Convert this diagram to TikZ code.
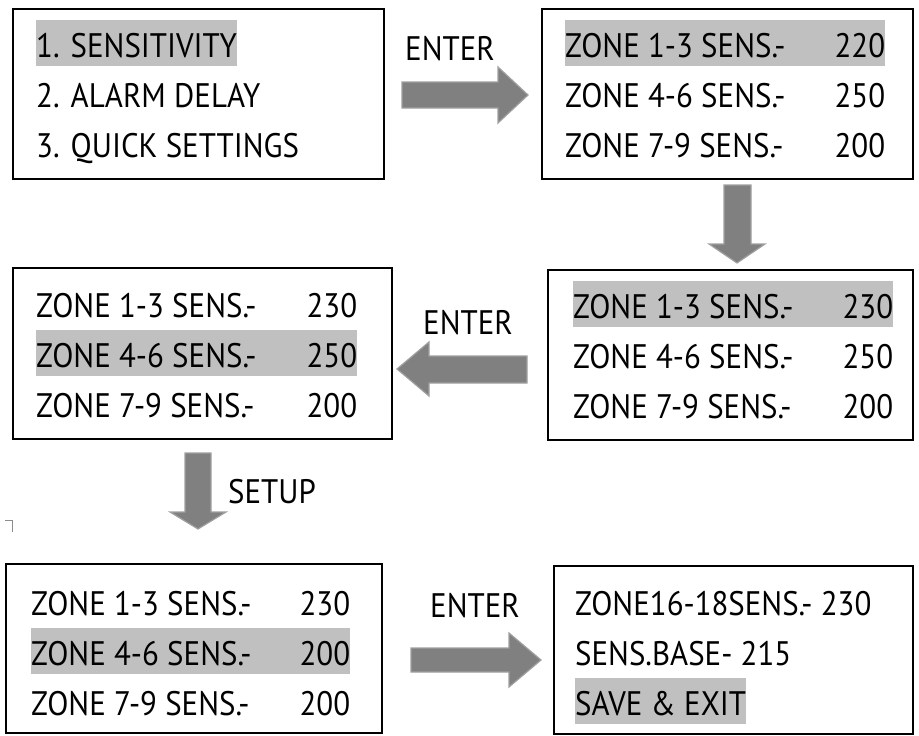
\documentclass[tikz,border=0pt]{standalone}
\usepackage{fontspec}
\setmainfont[FakeStretch=0.91]{PT Sans}
\definecolor{selgray}{RGB}{192,192,192}
\definecolor{arrowgray}{RGB}{128,128,128}
% one menu line: label on the left, value pushed to the right edge
\newcommand\zrow[3]{\makebox[#1][l]{#2\hfill #3}}

\begin{document}
\begin{tikzpicture}[x=1pt,y=-1pt,
  panel/.style={draw=black, line width=1.8pt, fill=white, inner sep=0pt, anchor=north west},
  row/.style={anchor=base west, inner xsep=0pt, inner ysep=0pt,
              text height=37pt, text depth=9pt, font=\fontsize{34}{40}\selectfont},
  sel/.style={row, fill=selgray},
  cue/.style={anchor=base west, inner sep=0pt, font=\fontsize{34}{40}\selectfont},
  flowarrow/.style={fill=arrowgray, draw=arrowgray!75!white, line width=1.2pt, line join=miter},
]
\useasboundingbox (0,0) rectangle (919,736);

% ---- screens ----
\node[panel, minimum width=371pt, minimum height=170pt] (menu)  at (12,8)   {};
\node[panel, minimum width=371pt, minimum height=170pt] (zoneA) at (541,8)  {};
\node[panel, minimum width=365pt, minimum height=170pt] (zoneB) at (547,269) {};
\node[panel, minimum width=379pt, minimum height=171pt] (zoneC) at (12,267) {};
\node[panel, minimum width=376pt, minimum height=169pt] (zoneD) at (5,563)  {};
\node[panel, minimum width=359pt, minimum height=168pt] (final) at (553,565) {};

% ---- main menu ----
\node[sel] (m1) at (36,57)  {1. SENSITIVITY};
\node[row] (m2) at (36,107) {2. ALARM DELAY};
\node[row] (m3) at (36,157) {3. QUICK SETTINGS};

% ---- sensitivity, first entry ----
\node[sel] (a1) at (565,57)  {\zrow{320pt}{ZONE 1-3 SENS.-}{220}};
\node[row] (a2) at (565,107) {\zrow{320pt}{ZONE 4-6 SENS.-}{250}};
\node[row] (a3) at (565,157) {\zrow{320pt}{ZONE 7-9 SENS.-}{200}};

% ---- value changed ----
\node[sel] (b1) at (573,318) {\zrow{320pt}{ZONE 1-3 SENS.-}{230}};
\node[row] (b2) at (573,368) {\zrow{320pt}{ZONE 4-6 SENS.-}{250}};
\node[row] (b3) at (573,418) {\zrow{320pt}{ZONE 7-9 SENS.-}{200}};

% ---- next zone selected ----
\node[row] (c1) at (36,317) {\zrow{321pt}{ZONE 1-3 SENS.-}{230}};
\node[sel] (c2) at (36,367) {\zrow{321pt}{ZONE 4-6 SENS.-}{250}};
\node[row] (c3) at (36,417) {\zrow{321pt}{ZONE 7-9 SENS.-}{200}};

% ---- after setup ----
\node[row] (d1) at (31,615) {\zrow{319pt}{ZONE 1-3 SENS.-}{230}};
\node[sel] (d2) at (31,665) {\zrow{319pt}{ZONE 4-6 SENS.-}{200}};
\node[row] (d3) at (31,715) {\zrow{319pt}{ZONE 7-9 SENS.-}{200}};

% ---- last screen ----
\node[row] (f1) at (575,615) {ZONE16-18SENS.- 230};
\node[row] (f2) at (575,665) {SENS.BASE- 215};
\node[sel] (f3) at (575,715) {SAVE \& EXIT};

% ---- key labels ----
\node[cue] (k1) at (405,60)  {ENTER};
\node[cue] (k2) at (423,334) {ENTER};
\node[cue] (k3) at (228,503) {SETUP};
\node[cue] (k4) at (430,617) {ENTER};

% ---- block arrows ----
\fill[flowarrow] (402,82) -- (498,82) -- (498,67) -- (528,95) -- (498,123) -- (498,108) -- (402,108) -- cycle;
\fill[flowarrow] (724,185) -- (724,244) -- (709,244) -- (737,263) -- (765,244) -- (751,244) -- (751,185) -- cycle;
\fill[flowarrow] (527,356) -- (429,356) -- (429,342) -- (397,369) -- (429,396) -- (429,383) -- (527,383) -- cycle;
\fill[flowarrow] (185,453) -- (185,512) -- (170,512) -- (198,529) -- (226,512) -- (211,512) -- (211,453) -- cycle;
\fill[flowarrow] (411,648) -- (509,648) -- (509,633) -- (541,660) -- (509,687) -- (509,672) -- (411,672) -- cycle;

% stray corner tick
\draw[black!45, line width=0.8pt] (5,520) -- (12,520) -- (12,532);
\end{tikzpicture}
\end{document}
